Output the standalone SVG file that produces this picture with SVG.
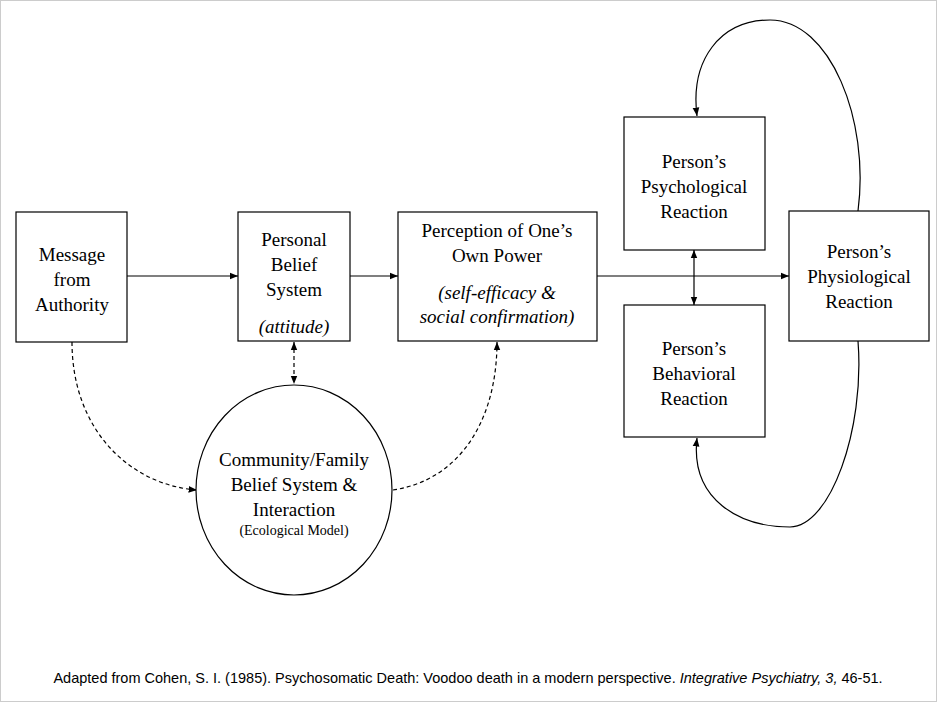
<svg xmlns="http://www.w3.org/2000/svg" width="937" height="702" viewBox="0 0 937 702">
<defs>
<marker id="a" viewBox="0 0 10 10" refX="10" refY="5" markerWidth="7" markerHeight="7" orient="auto-start-reverse"><path d="M0,1 L10,5 L0,9 z" fill="#000"/></marker>
<style>
.b{fill:#fff;stroke:#000;stroke-width:1.2}
.t{font-family:"Liberation Serif",serif;font-size:19px;text-anchor:middle}
.i{font-style:italic}
.c{fill:none;stroke:#000;stroke-width:1.2}
.d{stroke-dasharray:4,3}
</style>
</defs>
<rect x="0.5" y="0.5" width="936" height="701" fill="#fff" stroke="#ccc"/>
<g id="connectors">
<path class="c" d="M127,276 H238" marker-end="url(#a)"/>
<path class="c" d="M350,276 H398" marker-end="url(#a)"/>
<path class="c" d="M597,276 H789" marker-end="url(#a)"/>
<path class="c" d="M694,250 V305" marker-start="url(#a)" marker-end="url(#a)"/>
<path class="c d" d="M294,342 V384" marker-start="url(#a)" marker-end="url(#a)"/>
<path class="c d" d="M72,342 C72,430 130,485 197,490" marker-end="url(#a)"/>
<path class="c d" d="M393,490 C460,480 497,420 497,342" marker-end="url(#a)"/>
<path class="c" d="M858,211 C870,120 830,20 770,20 C720,20 690,60 697,116" marker-end="url(#a)"/>
<path class="c" d="M858,341 C865,430 830,527 790,527 C740,527 690,500 697,438" marker-end="url(#a)"/>
</g>
<g id="message"><rect class="b" x="16" y="212" width="111" height="130"/>
<text class="t" x="72" y="261">Message</text><text class="t" x="72" y="286">from</text><text class="t" x="72" y="311">Authority</text></g>
<g id="personal"><rect class="b" x="238" y="212" width="112" height="129"/>
<text class="t" x="294" y="246">Personal</text><text class="t" x="294" y="271">Belief</text><text class="t" x="294" y="296">System</text><text class="t i" x="294" y="333">(attitude)</text></g>
<g id="perception"><rect class="b" x="398" y="212" width="199" height="129"/>
<text class="t" x="497" y="237">Perception of One’s</text><text class="t" x="497" y="262">Own Power</text><text class="t i" x="497" y="299">(self-efficacy &amp;</text><text class="t i" x="497" y="323">social confirmation)</text></g>
<g id="psych"><rect class="b" x="624" y="117" width="141" height="133"/>
<text class="t" x="694" y="168">Person’s</text><text class="t" x="694" y="193">Psychological</text><text class="t" x="694" y="218">Reaction</text></g>
<g id="behav"><rect class="b" x="624" y="305" width="141" height="132"/>
<text class="t" x="694" y="355">Person’s</text><text class="t" x="694" y="380">Behavioral</text><text class="t" x="694" y="405">Reaction</text></g>
<g id="physio"><rect class="b" x="789" y="211" width="140" height="130"/>
<text class="t" x="859" y="258">Person’s</text><text class="t" x="859" y="283">Physiological</text><text class="t" x="859" y="308">Reaction</text></g>
<g id="community"><ellipse class="b" cx="294" cy="490" rx="98" ry="105"/>
<text class="t" x="294" y="466">Community/Family</text><text class="t" x="294" y="491">Belief System &amp;</text><text class="t" x="294" y="516">Interaction</text>
<text class="t" x="294" y="535" style="font-size:14px">(Ecological Model)</text></g>
<text x="468" y="683" style="font-family:'Liberation Sans',sans-serif;font-size:14.5px;text-anchor:middle">Adapted from Cohen, S. I. (1985). Psychosomatic Death: Voodoo death in a modern perspective. <tspan font-style="italic">Integrative Psychiatry, 3,</tspan> 46-51.</text>
</svg>
